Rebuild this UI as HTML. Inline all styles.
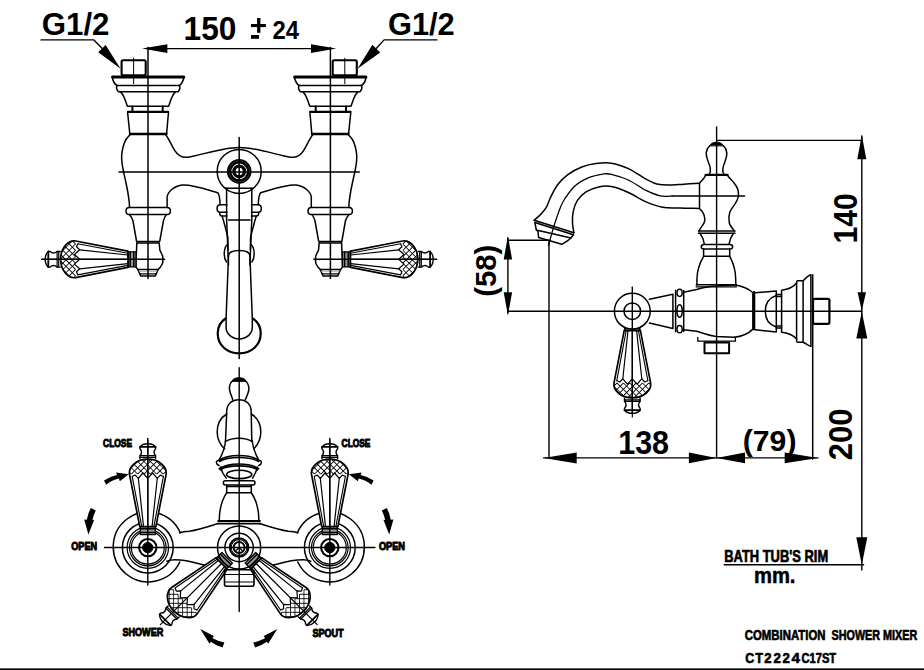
<!DOCTYPE html>
<html><head><meta charset="utf-8">
<style>
html,body{margin:0;padding:0;background:#fff;width:924px;height:670px;overflow:hidden}
svg{display:block}
text{font-family:"Liberation Sans",sans-serif;font-weight:bold;fill:#000}
</style></head>
<body>
<svg width="924" height="670" viewBox="0 0 924 670">
<defs>
<pattern id="hatch" patternUnits="userSpaceOnUse" width="4.5" height="4.5" patternTransform="rotate(45)">
<path d="M0,0 V4.5 M0,0 H4.5" stroke="#000" stroke-width="1.6" fill="none"/>
</pattern>
<clipPath id="hc"><path d="M-58.3,-15 L-59.5,-12.5 L-56.3,-9.5 L-61.6,-4.8 L-56.3,0 L-61.6,4.8 L-56.3,9.5 L-59.5,12.5 L-58.3,15 L-58.3,19 L-80,19 L-80,-19 L-58.3,-19 Z"/></clipPath>
<clipPath id="hc2"><path d="M-60.3,-18.3 C-68,-19.5 -75.4,-11 -75.4,0 C-75.4,11 -68,19.5 -60.3,18.3 Z"/></clipPath>
<g id="handle" fill="none" stroke="#000" stroke-linejoin="round" stroke-linecap="round">
<path d="M-7.7,-7.6 L-8.2,-8.1 L-60.3,-18.3 C-68,-19.5 -75.4,-11 -75.4,0 C-75.4,11 -68,19.5 -60.3,18.3 L-8.2,8.1 L-7.7,7.6 Z" stroke="none" fill="#fff"/>
<path d="M-75.8,-7.8 L-78.9,-7.8 C-81,-6 -83.5,-5.6 -85.9,-7.8 L-87.7,-7.8 C-90,-6 -90.8,-2.5 -90.8,0 C-90.8,2.5 -90,6 -87.7,7.8 L-85.9,7.8 C-83.5,5.6 -81,6 -78.9,7.8 L-75.8,7.8 Z" stroke="none" fill="#fff"/>
<rect x="-7.7" y="-7.5" width="7.7" height="15" stroke-width="1.3" fill="#999"/>
<path d="M-5.8,-7.3 V7.3 M-2.2,-7.3 V7.3" stroke-width="1.5"/>
<g clip-path="url(#hc2)"><rect x="-80" y="-22" width="25" height="44" fill="url(#hatch)" stroke="none" clip-path="url(#hc)"/></g>
<path d="M-7.7,-7.6 L-8.2,-8.1 L-60.3,-18.3 C-68,-19.5 -75.4,-11 -75.4,0 C-75.4,11 -68,19.5 -60.3,18.3 L-8.2,8.1 L-7.7,7.6" stroke-width="1.7"/>
<path d="M-8.2,-6.1 L-58.3,-15.6 M-58.3,15.6 L-8.2,6.1" stroke-width="1.1"/>
<path d="M-8.2,-4.3 L-56.3,-9.5 M-8.2,4.3 L-56.3,9.5" stroke-width="1.2"/>
<path d="M-58.3,-15.3 L-59.5,-12.5 L-56.3,-9.5 L-61.6,-4.8 L-56.3,0 L-61.6,4.8 L-56.3,9.5 L-59.5,12.5 L-58.3,15.3" stroke-width="1.2"/>
<path d="M-8.2,-8.1 V8.1" stroke-width="1.4"/>
<path d="M-75.8,-7.8 L-78.9,-7.8 C-81,-6 -83.5,-5.6 -85.9,-7.8 L-87.7,-7.8 C-90,-6 -90.8,-2.5 -90.8,0 C-90.8,2.5 -90,6 -87.7,7.8 L-85.9,7.8 C-83.5,5.6 -81,6 -78.9,7.8 L-75.8,7.8" stroke-width="1.4"/>
<path d="M-87.7,-7.8 V7.8" stroke-width="1.8"/>
<path d="M-78.9,-7.6 V7.6 M-77.3,-7.6 V7.6" stroke-width="1.2"/>
<path d="M-94.5,0 H-8" stroke-width="1.2"/>
</g>
</defs>
<g fill="none" stroke="#000" stroke-width="1.5" stroke-linejoin="round" stroke-linecap="round">

<g id="fhalf">
<rect x="121.6" y="60.2" width="24.1" height="15" rx="1.5" stroke-width="2.1"/>
<line x1="133.6" y1="58.2" x2="133.6" y2="83.6" stroke-width="1"/>
<line x1="112.5" y1="77" x2="183.8" y2="77" stroke-width="3"/>
<path d="M112.5,78 Q113.5,83.5 117,85.5 L179.3,85.5 Q182.5,83.5 183.8,78"/>
<path d="M117,85.5 Q115.5,88.5 118.5,91.8 L178,91.8 Q181,88.5 179.3,85.5"/>
<path d="M120.5,91.8 C124.5,95 125.5,102 127.4,106.2 L168.6,106.2 C170.5,102 171.5,95 175.5,91.8"/>
<line x1="127.6" y1="111.5" x2="168.5" y2="111.5"/>
<line x1="132.4" y1="106.5" x2="132.4" y2="111.2" stroke-width="2"/>
<line x1="162.7" y1="106.5" x2="162.7" y2="111.2" stroke-width="2"/>
<path d="M127.6,112.3 L168.5,112.3 L166.6,133.7 L129.8,133.7 Z"/>
<line x1="130" y1="134" x2="166.4" y2="134" stroke-width="2.4"/>
<path d="M130.1,134.7 C129.4,135.5 127.2,137.5 126.0,139.5 C124.8,141.5 123.9,143.9 123.2,146.5 C122.5,149.1 121.9,152.4 121.7,155.0 C121.5,157.6 121.6,159.2 121.9,162.0 C122.2,164.8 122.8,168.2 123.5,171.5 C124.2,174.8 125.1,178.6 125.8,182.0 C126.5,185.4 127.2,188.7 127.8,192.0 C128.4,195.3 128.9,199.5 129.2,202.0 C129.5,204.5 129.4,206.3 129.5,207.2"/>
<path d="M165.7,134.7 C169,139 171.5,145 174.5,150.1 C177.5,155 182,158 188,157.2 C200,155.5 222,147.5 239.2,147.5"/>
<path d="M167.1,207 L167.1,197.2 C167.5,192 174,186 182.5,185.1 C192,184.5 208,190 217.7,192.7 C219.3,194 219.8,198 220.2,204.7"/>
<path d="M129.5,207.4 L167,207.4 C171.5,207.4 171.5,214.6 167,214.6 L129.5,214.6 C124.8,214.6 124.8,207.4 129.5,207.4 Z"/>
<path d="M129.3,214.6 C131.5,217 132.5,219 133,221 L136.5,241"/>
<path d="M166.4,214.6 C164.5,217 163.8,219 163.4,221 L159.8,241"/>
<line x1="136.8" y1="241.5" x2="159.2" y2="241.5" stroke-width="1.4"/>
<line x1="136.8" y1="243" x2="159.2" y2="243" stroke-width="1.4"/>
<path d="M136.8,242.9 L136.5,251.1 L135.8,266.9 C136.5,268 137.5,269 137.8,269.5 L140.8,276.1 L155.2,276.1 L158.2,269.5 C159,268.5 160,267.5 160.5,266.9 C162,265 162.8,263.5 162.8,262.3 L162.8,256.4 C162,254 160.5,252 159.8,249.8 L159.2,242.9"/>
<line x1="137.8" y1="269.5" x2="158.2" y2="269.5" stroke-width="1.5"/>
<line x1="139.6" y1="273.8" x2="156.6" y2="273.8" stroke-width="1.3"/>
<line x1="139" y1="271.6" x2="157.2" y2="271.6" stroke-width="0.6" stroke="#888"/>
<use href="#handle" transform="translate(136,259.3)"/>
</g>
<use href="#fhalf" transform="translate(478.4,0) scale(-1,1)"/>

<circle cx="239.2" cy="171.4" r="22"/>
<circle cx="239.2" cy="171.4" r="10.05" stroke-width="4.5"/>
<circle cx="239.2" cy="171.4" r="10.6" stroke-width="0.35" stroke="#777"/>
<circle cx="239.2" cy="171.4" r="5.3" stroke-width="3.4"/>
<line x1="225.3" y1="188.2" x2="252.9" y2="188.2"/>
<path d="M226.6,188.2 L226.6,219.3 L228.5,265"/>
<path d="M251.8,188.2 L251.8,219.3 L249.9,265"/>
<line x1="228.5" y1="220" x2="250" y2="220"/>
<path d="M220.2,204.7 L227,204.7 M220.2,204.7 C216,204.7 216,212.3 220.2,212.3 L227,212.3 M219.6,212.3 C219.6,214 220,216.1 222,216.1 L227,216.1"/>
<path d="M258.2,204.7 L251.4,204.7 M258.2,204.7 C262.4,204.7 262.4,212.3 258.2,212.3 L251.4,212.3 M258.8,212.3 C258.8,214 258.4,216.1 256.4,216.1 L251.4,216.1"/>
<path d="M222.1,216.1 C224,222 226,230 227.8,237 L228,250"/>
<path d="M256.3,216.1 C254.4,222 252.4,230 250.6,237 L250.4,250"/>
<path d="M227.2,244.7 C223.5,248 223.3,258 226.5,262"/>
<path d="M251.2,244.7 C254.9,248 255.1,258 251.9,262"/>
<path d="M228.5,256 C228.5,252 233,250.4 239.2,250.4 C245.4,250.4 249.9,252 249.9,256"/>
<path d="M228.5,256 L226.1,318 L226.1,327.6 C226.1,334 232,338.9 239.2,338.9 C246.4,338.9 252.3,334 252.3,327.6 L252.3,318 L249.9,256"/>
<path d="M225.6,318.5 C220,322 217.7,328 217.7,333.5 C217.7,345 227,353.4 239.2,353.4 C251.4,353.4 260.7,345 260.7,333.5 C260.7,328 258.4,322 252.8,318.5" stroke-width="2.2"/>
<g stroke-width="1.5">
<line x1="239.2" y1="137.6" x2="239.2" y2="358.5"/>
<line x1="119" y1="171.9" x2="359.4" y2="171.9"/>
<line x1="148" y1="47.5" x2="148" y2="278.5"/>
<line x1="330.4" y1="47.5" x2="330.4" y2="278.5"/>
<line x1="42.3" y1="259.3" x2="164.6" y2="259.3"/>
<line x1="313.8" y1="259.3" x2="436.1" y2="259.3"/>
</g>
<line x1="150" y1="48.6" x2="328" y2="48.6" stroke-width="1.4"/>
<path d="M41,39.9 L93.9,39.9 L102.5,48.8" stroke-width="1.4"/>
<path d="M437,39.9 L384.1,39.9 L376,48.8" stroke-width="1.4"/>

<path d="M142.1,48.6 L167.4,53.0 L167.4,44.2 Z" fill="#000" stroke="none"/>
<path d="M336.3,48.6 L311.0,44.2 L311.0,53.0 Z" fill="#000" stroke="none"/>
<path d="M120.6,68.8 L98.2,52.2 L105.6,45 Z" fill="#000" stroke="none"/>
<path d="M357.5,68.8 L372.4,44.8 L380.2,52.4 Z" fill="#000" stroke="none"/>
<g id="side">
<path d="M534.2,220.2 C535.3,219.2 538.6,216.6 540.6,214.5 C542.6,212.4 544.6,210.2 546.3,207.4 C547.9,204.6 548.6,201.3 550.5,197.5 C552.4,193.7 554.8,188.6 557.6,184.8 C560.4,181.0 563.5,177.8 567.5,174.8 C571.5,171.8 577.0,168.9 581.7,167.0 C586.4,165.1 591.0,164.1 595.9,163.5 C600.8,162.9 606.0,162.3 611.4,163.2 C616.8,164.0 622.7,166.0 628.4,168.6 C634.1,171.2 640.8,176.3 645.5,178.9 C650.2,181.5 653.0,183.0 656.8,184.0 C660.6,185.0 663.7,185.1 668.2,185.1 C672.7,185.1 678.8,184.5 684.0,184.2 C689.2,183.9 696.8,183.4 699.4,183.2" />
<path d="M573.9,232.8 C573.7,231.2 572.6,226.5 572.5,223.0 C572.4,219.5 572.4,215.5 573.2,211.7 C574.0,207.9 575.3,203.7 577.4,200.4 C579.5,197.1 582.5,194.1 586.0,191.8 C589.5,189.6 594.5,187.8 598.7,186.9 C602.9,186.0 606.5,185.7 611.4,186.6 C616.3,187.5 622.7,190.0 628.4,192.5 C634.1,195.0 639.8,199.1 645.5,201.6 C651.2,204.1 656.8,206.2 662.5,207.3 C668.2,208.4 673.9,207.8 680.0,208.0 C686.1,208.2 696.2,208.3 699.4,208.4" />
<path d="M548.4,245.7 C549.3,242.4 552.0,232.3 554.0,225.9 C556.0,219.5 558.6,211.9 560.4,207.4 C562.2,202.9 562.3,202.5 564.7,199.0 C567.1,195.5 570.6,189.8 574.6,186.2 C578.6,182.6 584.1,179.7 588.8,177.7 C593.5,175.7 599.2,174.7 603.0,174.1 C606.8,173.5 607.2,173.3 611.4,174.3 C615.6,175.3 622.7,177.3 628.4,180.0 C634.1,182.7 640.2,187.5 645.5,190.2 C650.8,192.8 655.8,194.9 660.2,195.9 C664.6,196.9 670.0,196.1 672.0,196.1" stroke-width="1.3"/>
<path d="M534.2,220.2 L573.9,232.8 M534.9,222.5 L573.4,234.8" stroke-width="1.6"/>
<path d="M534.9,222.5 L536.3,230 L571,238 L573.4,234.8 M536.3,230 L538,231.5 L538.6,237.5 L561.8,244.3 L568,240.5 L571,238" />
<path d="M709.8,145.5 C712,141 721,141 723.4,145.5 Z" fill="#000" stroke-width="1"/>
<path d="M709.6,146 C705,150 706,157 708.5,162.5 C710,166 711,169 710.1,172.5 L709,174.8 M723.6,146 C728,150 727,157 724.7,162.5 C723.2,166 722.2,169 723.1,172.5 L724.2,174.8" />
<path d="M705.7,174.9 L727.5,174.9" stroke-width="2.4"/>
<path d="M705.7,175 C705,177 703,179.5 700.5,182 L699.5,183.2 L699.5,208.6 C704,212 705.5,218 704.4,222 C703.5,225 700,228 699.2,231" />
<path d="M727.5,175.4 C729,178 733,181 735.9,185.5 C738.2,189 738.8,192 738.4,196 C737.6,203 731.5,207 729.7,212.4 C728.5,216 728.8,220 729.3,223 C730,226 733,228.5 734.2,231" />
<path d="M698.4,231 L735,231 M698.4,233.2 L735,233.2" stroke-width="1.5"/>
<path d="M700,233.2 C702,236 704,240 704.4,244.2 M733.5,233.2 C731.5,236 729.5,240 729,244.2" />
<path d="M704,244.4 L730,244.4 C733.5,244.4 733.5,248.9 730,248.9 L704,248.9 C700.3,248.9 700.3,244.4 704,244.4 Z" />
<path d="M703.6,249.3 L703.6,256.3 M729.7,249.3 L729.7,256.3 M703.6,256.3 L729.7,256.3" />
<path d="M703.6,256.3 C699,264 697,272 696.9,279.4 L697,285 M729.7,256.3 C734,264 735.7,272 735.7,279.4 L735.8,285" />
<path d="M696.2,284.7 L736.4,284.7 M696.2,286.9 L736.4,286.9" stroke-width="1.4"/>
<path d="M683.7,292.2 L696.5,289.5 C702,288 710,286.3 716.6,286.1 L734,284.8 C742,286 749,289 752.9,292.8 L752.9,329.1 C749,333 742,336.5 734,337.2 L716.6,336.5 C710,336 702,333 696.5,331.2 L683.7,329.8" />
<path d="M754,292.2 L754,329.1" stroke-width="2.6"/>
<path d="M697.8,337.5 L697.8,341.2 L735.4,341.2 L735.4,337.5" stroke-width="1.3"/>
<rect x="704.5" y="342.6" width="24.6" height="10.7" stroke-width="2"/>
<path d="M649.4,299.3 L672.9,294.2 M649.4,323.1 L672.9,328.5 M672.9,294.2 L672.9,328.5 M675.6,290.2 L675.6,331.8 M683.7,290.5 L683.7,331.5" />
<ellipse cx="679.6" cy="292.8" rx="2.6" ry="3.6"/><ellipse cx="679.6" cy="311" rx="2.6" ry="6.2"/><ellipse cx="679.6" cy="329.2" rx="2.6" ry="3.6"/>
<use href="#handle" transform="translate(632.3,322.5) rotate(-90)"/>
<circle cx="632.3" cy="311.2" r="17.9" fill="#fff"/><circle cx="632.3" cy="311.2" r="8.3"/>
<path d="M755.4,292.7 L776.3,290.9 L776.3,332 L755.4,329.7" />
<path d="M775.7,295.7 C769,298 765.3,304 765.3,311.2 C765.3,318.4 769,324.4 775.7,326.7" />
<path d="M776.3,294.5 L781.6,294.5 M776.3,296.5 L781.6,296.5 M776.3,325.9 L781.6,325.9 M776.3,327.9 L781.6,327.9" />
<path d="M781.6,290.3 L781.6,332.3 M781.6,290.3 C788,289.5 793,287.5 796.6,283 M781.6,332.3 C788,333 793,335 796.6,339" />
<rect x="796.6" y="280.7" width="6.5" height="61.5" rx="1"/>
<path d="M803.1,280.7 C806,278 808,275.5 810.9,274.8 L810.9,346.4 C808,345.5 806,343.5 803.1,342.2" />
<path d="M812.7,274.8 L812.7,459" stroke-width="1.5"/>
<rect x="813" y="298.8" width="16.4" height="25" rx="1.5" stroke-width="2.2"/>
</g>
<g stroke-width="1.4">
<line x1="716.6" y1="127" x2="716.6" y2="458"/>
<line x1="716.6" y1="140.4" x2="862" y2="140.4"/>
<line x1="861.8" y1="136" x2="861.8" y2="570"/>
<line x1="507.9" y1="238" x2="507.9" y2="313"/>
<line x1="507.7" y1="311.3" x2="862" y2="311.3"/>
<line x1="507.9" y1="240.2" x2="549" y2="240.2"/>
<line x1="549" y1="240.5" x2="549" y2="458"/>
<line x1="672" y1="196" x2="744.6" y2="196"/>
<line x1="632.3" y1="287.3" x2="632.3" y2="413"/>
<line x1="543.6" y1="457.9" x2="818" y2="457.9"/>
<line x1="724.2" y1="564.7" x2="863.6" y2="564.7"/>
</g>

<path d="M861.8,134.7 L857.3,159.3 L866.3,159.3 Z" fill="#000" stroke="none"/>
<path d="M861.8,310.8 L866.0,292.3 L857.6,292.3 Z" fill="#000" stroke="none"/>
<path d="M861.8,311.4 L856.3,338.5 L867.3,338.5 Z" fill="#000" stroke="none"/>
<path d="M861.8,565.0 L867.3,537.3 L856.3,537.3 Z" fill="#000" stroke="none"/>
<path d="M507.9,235.9 L503.7,259.4 L512.1,259.4 Z" fill="#000" stroke="none"/>
<path d="M507.9,315.5 L512.1,292.2 L503.7,292.2 Z" fill="#000" stroke="none"/>
<path d="M543.6,457.9 L576.7,463.4 L576.7,452.4 Z" fill="#000" stroke="none"/>
<path d="M716.5,457.9 L688.9,452.6 L688.9,463.2 Z" fill="#000" stroke="none"/>
<path d="M716.5,457.9 L745.0,463.2 L745.0,452.6 Z" fill="#000" stroke="none"/>
<path d="M818.0,457.9 L784.7,452.6 L784.7,463.2 Z" fill="#000" stroke="none"/>
<g id="phalf">
<circle cx="147.8" cy="547.6" r="25.4"/>
<circle cx="147.8" cy="547.6" r="20.7" stroke-width="1.2"/>
<circle cx="147.8" cy="547.6" r="18.3" stroke-width="1.2"/>
<circle cx="147.8" cy="547.6" r="16.5" stroke-width="1.2"/>
<circle cx="147.8" cy="547.6" r="8.7" stroke-width="2"/>
<circle cx="147.8" cy="547.6" r="5.2" fill="#000" stroke-width="1"/>
<path d="M180.3,532.8 A35,35 0 1 0 179.8,562" />
<path d="M179.6,532.7 C182,532 186,531.5 189.3,531.3 C200,529.5 210,526 218.2,523.5" />
<path d="M166.9,561.2 C170,560.2 172,559.7 174.3,559.7 C182,559.7 190,561 200,564 C208,566 214,568 222,569.5" />
<use href="#handle" transform="translate(147.8,534.6) rotate(90)"/>
<path d="M104,480.5 Q110,476.5 117,475 L116,472.6 L128.7,474.2 L119.8,481.2 L118.9,478.6 Q112,480 106.2,484.8 Z" fill="#000" stroke="none"/>
<path d="M90.8,508 L95.8,510.5 Q93.5,515 92.4,520 L94.2,519.8 L88.4,534.6 L84.2,519.5 L86.8,519.7 Q88,513 90.8,508 Z" fill="#000" stroke="none"/>
<path d="M200.3,629.1 L213.8,636.1 L212.5,638.2 Q218,641 224.4,642.6 L222.5,647.5 Q215.5,645.5 210.8,641.8 L209.5,643.7 Z" fill="#000" stroke="none"/>
<use href="#handle" transform="translate(227.2,557.8) rotate(-45)"/>
</g>
<use href="#phalf" transform="translate(477.6,0) scale(-1,1)"/>
<path d="M232.1,381 C232.5,376.5 245.5,376.5 245.9,381 Z" fill="#000" stroke-width="1"/>
<path d="M232.1,381.2 C229,384 229.2,389 229.8,391 C230.5,394 232,397 232.7,399.7 M245.9,381.2 C249,384 249.2,389 248.6,391 C248,394 246.5,397 245.3,399.7" />
<path d="M226.7,411.6 C226.7,404 232,399.7 239,399.7 C246,399.7 251.2,404 251.2,411.6 L251.8,441.5 M226.7,411.6 L225.5,441.5" />
<path d="M226.7,414 C220,418 217.2,425 217.2,431.9 C217.2,438 219.5,444 224.6,448.8 M251.2,414 C258,418 260.8,425 260.8,431.9 C260.8,438 258.5,444 253.8,448.8" />
<path d="M225.5,441.5 C232,437 246,437 251.8,441.5" />
<path d="M225.6,440.5 C225,448 222,455 218.9,460.3 M252.2,440.5 C252.8,448 255.8,455 258.9,460.3" />
<path d="M218.9,460.3 C228,454 250,454 258.9,460.3 M219.5,461.5 C228,456.3 250,456.3 258.5,461.5" stroke-width="1.5"/>
<path d="M218.9,460.3 C215.5,461 215.5,464 219,465.5 M258.9,460.3 C262.3,461 262.3,464 258.8,465.5" />
<path d="M219.2,468.7 C228,462.5 250,462.5 258.6,468.7 M220.3,469.8 C228,464.6 250,464.6 257.5,469.8" stroke-width="1.6"/>
<path d="M220.5,467 C221.5,471 223.5,475 226.2,478.1 M257.5,467 C256.5,471 254.5,475 252.5,478.1" />
<ellipse cx="239.2" cy="474.4" rx="12.6" ry="4.2" stroke-width="1.6"/>
<path d="M225.5,480.7 L252.9,480.7 C255.8,480.7 255.8,484.9 252.9,484.9 L225.5,484.9 C222.6,484.9 222.6,480.7 225.5,480.7 Z" />
<path d="M226.7,484.9 L226.7,492.7 M251.3,484.9 L251.3,492.7 M226.7,486.4 L251.3,486.4 M226.7,492.7 L251.3,492.7" />
<path d="M226.7,492.7 C222,500 219.2,510 219.2,521 M251.3,492.7 C256.5,500 258.9,510 258.9,521" />
<path d="M218.2,521 L260,521 M218.2,523.6 L260,523.6" stroke-width="1.8"/>
<circle cx="239.1" cy="547.5" r="21.6"/><circle cx="239.1" cy="547.5" r="14.2" stroke-width="1.4"/>
<circle cx="239.1" cy="547.5" r="9.3" stroke-width="2"/><circle cx="239.1" cy="547.5" r="7.9" stroke-width="1"/><circle cx="239.1" cy="547.5" r="5.5" stroke-width="2"/>
<path d="M239.1,547.5 L235.4,551.2 M239.1,547.5 L242.8,551.2" stroke-width="1.2"/>
<rect x="224.5" y="569.7" width="29.5" height="16.5" rx="2" stroke-width="1.6"/>
<path d="M224.5,574.5 L254,574.5 M224.5,582 L254,582" stroke-width="1.2"/>
<g stroke-width="1.4">
<line x1="239.2" y1="367.8" x2="239.2" y2="611.5"/>
<line x1="104.5" y1="547.5" x2="375" y2="547.5"/>
<line x1="147.8" y1="438.4" x2="147.8" y2="585"/>
<line x1="329.8" y1="438.4" x2="329.8" y2="585"/>
</g>
<rect x="0" y="668.4" width="924" height="1.6" fill="#000" stroke="none"/>
</g>
<text x="0" y="0" font-size="100" transform="matrix(0.31244,0.00000,0.00000,0.30541,41.75,34.79)">G1/2</text>
<text x="0" y="0" font-size="100" transform="matrix(0.30813,0.00000,0.00000,0.31081,387.97,34.69)">G1/2</text>
<text x="0" y="0" font-size="100" transform="matrix(0.31656,0.00000,0.00000,0.32958,183.60,40.37)">150</text>
<rect x="251" y="24" width="14.9" height="3.1" fill="#000"/><rect x="257.1" y="18" width="3.3" height="14.8" fill="#000"/><rect x="251" y="35" width="8" height="3.8" fill="#000"/>
<text x="0" y="0" font-size="100" transform="matrix(0.23889,0.00000,0.00000,0.26143,272.48,38.80)">24</text>
<text x="0" y="0" font-size="100" transform="matrix(0.30506,0.00000,0.00000,0.33662,618.17,453.76)">138</text>
<text x="0" y="0" font-size="100" transform="matrix(0.30179,0.00000,0.00000,0.30213,742.79,451.16)">(79)</text>
<text x="0" y="0" font-size="100" transform="matrix(0.00000,-0.30064,0.32535,0.00000,857.47,243.50)">140</text>
<text x="0" y="0" font-size="100" transform="matrix(0.00000,-0.30938,0.32817,0.00000,852.17,460.13)">200</text>
<text x="0" y="0" font-size="100" transform="matrix(0.00000,-0.29286,0.30426,0.00000,496.41,296.76)">(58)</text>
<text x="0" y="0" font-size="100" transform="matrix(0.08427,0.00000,0.00000,0.11549,103.11,446.63)" stroke="#000" stroke-width="9.12" stroke-linejoin="round">CLOSE</text>
<text x="0" y="0" font-size="100" transform="matrix(0.08368,0.00000,0.00000,0.10845,341.62,447.14)" stroke="#000" stroke-width="9.45" stroke-linejoin="round">CLOSE</text>
<text x="0" y="0" font-size="100" transform="matrix(0.09158,0.00000,0.00000,0.11690,71.18,550.43)" stroke="#000" stroke-width="8.70" stroke-linejoin="round">OPEN</text>
<text x="0" y="0" font-size="100" transform="matrix(0.09231,0.00000,0.00000,0.10282,378.88,550.15)" stroke="#000" stroke-width="9.24" stroke-linejoin="round">OPEN</text>
<text x="0" y="0" font-size="100" transform="matrix(0.09056,0.00000,0.00000,0.11268,122.48,636.04)" stroke="#000" stroke-width="8.91" stroke-linejoin="round">SHOWER</text>
<text x="0" y="0" font-size="100" transform="matrix(0.09091,0.00000,0.00000,0.11408,312.38,636.64)" stroke="#000" stroke-width="8.84" stroke-linejoin="round">SPOUT</text>
<text x="0" y="0" font-size="100" transform="matrix(0.12917,0.00000,0.00000,0.15915,724.20,561.84)" stroke="#000" stroke-width="4.18" stroke-linejoin="round">BATH TUB'S RIM</text>
<text x="0" y="0" font-size="100" transform="matrix(0.20208,0.00000,0.00000,0.22222,753.94,583.45)" stroke="#000" stroke-width="2.36" stroke-linejoin="round">mm.</text>
<text x="0" y="0" font-size="100" transform="matrix(0.11390,0.00000,0.00000,0.14366,744.74,640.26)" stroke="#000" stroke-width="4.69" stroke-linejoin="round">COMBINATION</text>
<text x="0" y="0" font-size="100" transform="matrix(0.10786,0.00000,0.00000,0.14366,831.58,640.26)" stroke="#000" stroke-width="4.82" stroke-linejoin="round">SHOWER MIXER</text>
<text x="0" y="0" font-size="100" transform="matrix(0.12462,0.00000,0.00000,0.14366,745.20,662.96)" stroke="#000" stroke-width="4.48" stroke-linejoin="round">C</text>
<text x="0" y="0" font-size="100" transform="matrix(0.12712,0.00000,0.00000,0.14783,755.37,663.10)" stroke="#000" stroke-width="4.38" stroke-linejoin="round">T</text>
<text x="0" y="0" font-size="100" transform="matrix(0.13061,0.00000,0.00000,0.14571,764.31,663.10)" stroke="#000" stroke-width="4.35" stroke-linejoin="round">2</text>
<text x="0" y="0" font-size="100" transform="matrix(0.13265,0.00000,0.00000,0.14571,773.40,663.10)" stroke="#000" stroke-width="4.32" stroke-linejoin="round">2</text>
<text x="0" y="0" font-size="100" transform="matrix(0.13265,0.00000,0.00000,0.14571,782.60,663.10)" stroke="#000" stroke-width="4.32" stroke-linejoin="round">2</text>
<text x="0" y="0" font-size="100" transform="matrix(0.15283,0.00000,0.00000,0.14783,791.39,663.10)" stroke="#000" stroke-width="3.99" stroke-linejoin="round">4</text>
<text x="0" y="0" font-size="100" transform="matrix(0.11111,0.00000,0.00000,0.14366,801.56,662.96)" stroke="#000" stroke-width="4.75" stroke-linejoin="round">C17ST</text>
</svg>
</body></html>
